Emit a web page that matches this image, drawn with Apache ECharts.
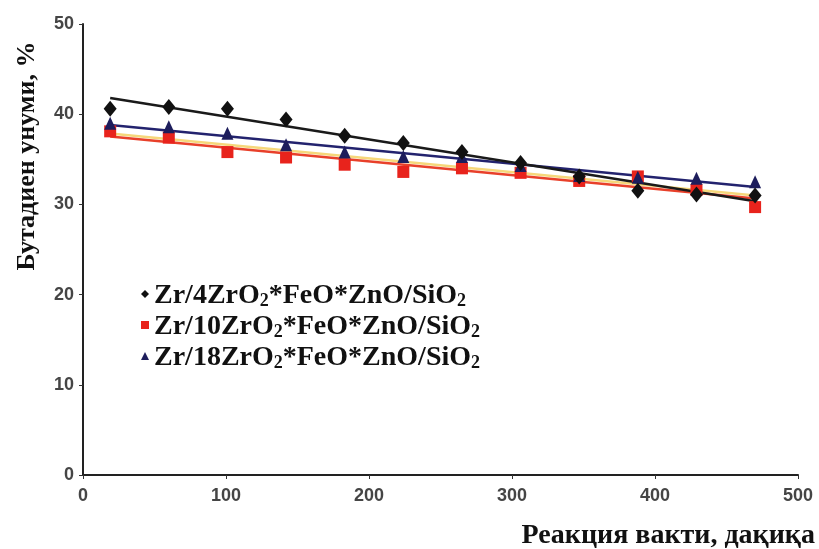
<!DOCTYPE html>
<html>
<head>
<meta charset="utf-8">
<script src="https://cdn.jsdelivr.net/npm/echarts@6/dist/echarts.min.js"></script>
<style>
  html, body { margin: 0; padding: 0; background: #fff; }
  #chart-container { width: 819px; height: 549px; }
</style>
</head>
<body>
<div id="chart-container"></div>
<script>
var times = [19, 60, 101, 142, 183, 224, 265, 306, 347, 388, 429, 470];
var zr4 = [40.6, 40.8, 40.6, 39.4, 37.6, 36.8, 35.8, 34.6, 33.1, 31.5, 31.1, 31.0];
var zr10 = [38.1, 37.4, 35.8, 35.2, 34.4, 33.6, 34.0, 33.5, 32.6, 33.1, 31.6, 29.7];
var zr18 = [39.0, 38.6, 37.9, 36.6, 35.8, 35.3, 35.3, 34.3, 33.2, 33.0, 32.9, 32.5];
var names = ['Zr/4ZrO2*FeO*ZnO/SiO2', 'Zr/10ZrO2*FeO*ZnO/SiO2', 'Zr/18ZrO2*FeO*ZnO/SiO2'];
var xTicks = [0, 100, 200, 300, 400, 500];
var yTicks = [0, 10, 20, 30, 40, 50];

var dom = document.getElementById('chart-container');
var myChart = echarts.init(dom, null, { renderer: 'canvas' });

function pairs(ys) {
  return times.map(function (t, i) { return [t, ys[i]]; });
}

// linear trend line (least squares), like the spreadsheet trendline
function trend(ys) {
  var n = times.length, mx = 0, my = 0, sxy = 0, sxx = 0;
  for (var i = 0; i < n; i++) { mx += times[i] / n; my += ys[i] / n; }
  for (var j = 0; j < n; j++) {
    sxy += (times[j] - mx) * (ys[j] - my);
    sxx += (times[j] - mx) * (times[j] - mx);
  }
  var k = sxy / sxx, b = my - k * mx;
  var x0 = times[0], x1 = times[n - 1];
  return [[x0, k * x0 + b], [x1, k * x1 + b]];
}

function legendText(name) {
  return '{a|' + name.replace(/O2/g, 'O}{s|2}{a|') + '}';
}

var option = {
  animation: false,
  backgroundColor: '#fff',
  grid: { left: 83, right: 21, top: 24, bottom: 74 },
  xAxis: {
    type: 'value',
    min: 0,
    max: 500,
    interval: 100,
    axisLine: { lineStyle: { color: '#222', width: 2 } },
    axisTick: { show: true, length: 4, lineStyle: { color: '#333' } },
    splitLine: { show: false },
    axisLabel: {
      color: '#454545', fontSize: 18, fontWeight: 'bold', fontFamily: 'Liberation Sans', margin: 12,
      formatter: function (v) { return xTicks.indexOf(v) >= 0 ? String(v) : ''; }
    }
  },
  yAxis: {
    type: 'value',
    min: 0,
    max: 50,
    interval: 10,
    axisLine: { show: true, lineStyle: { color: '#222', width: 2 } },
    axisTick: { show: true, length: 4, lineStyle: { color: '#333' } },
    splitLine: { show: false },
    axisLabel: {
      color: '#454545', fontSize: 18, fontWeight: 'bold', fontFamily: 'Liberation Sans', margin: 9,
      formatter: function (v) { return yTicks.indexOf(v) >= 0 ? String(v) : ''; }
    }
  },
  legend: {
    orient: 'vertical',
    left: 136,
    top: 277,
    itemGap: 3,
    itemWidth: 8,
    itemHeight: 8,
    data: [
      { name: names[0], icon: 'diamond' },
      { name: names[1], icon: 'rect' },
      { name: names[2], icon: 'triangle' }
    ],
    formatter: legendText,
    textStyle: {
      rich: {
        a: { fontFamily: 'Liberation Serif', fontWeight: 'bold', fontSize: 28, color: '#111', lineHeight: 32, verticalAlign: 'bottom' },
        s: { fontFamily: 'Liberation Serif', fontWeight: 'bold', fontSize: 18, color: '#111', lineHeight: 20, verticalAlign: 'bottom' }
      }
    }
  },
  graphic: [
    {
      type: 'text',
      x: 27, y: 156,
      rotation: Math.PI / 2,
      style: {
        text: 'Бутадиен унуми, %',
        font: 'bold 26px "Liberation Serif"',
        fill: '#111',
        align: 'center',
        verticalAlign: 'middle'
      }
    },
    {
      type: 'text',
      right: 4, top: 522,
      style: {
        text: 'Реакция вакти, дақиқа',
        font: 'bold 28px "Liberation Serif"',
        fill: '#111'
      }
    }
  ],
  series: [
    {
      type: 'line', data: trend(zr10), showSymbol: false, silent: true, z: 2,
      lineStyle: { color: '#e8402a', width: 2.5, shadowColor: '#f6d77a', shadowOffsetY: -3, shadowBlur: 0 }
    },
    {
      type: 'line', data: trend(zr18), showSymbol: false, silent: true, z: 2,
      lineStyle: { color: '#23236e', width: 2.5 }
    },
    {
      type: 'line', data: trend(zr4), showSymbol: false, silent: true, z: 2,
      lineStyle: { color: '#1a1a1a', width: 2.5 }
    },
    {
      name: names[1], type: 'scatter', data: pairs(zr10), z: 3,
      symbol: 'rect', symbolSize: 12, itemStyle: { color: '#e8231c', opacity: 1 }
    },
    {
      name: names[2], type: 'scatter', data: pairs(zr18), z: 4,
      symbol: 'triangle', symbolSize: [12, 13], itemStyle: { color: '#1d1d5c', opacity: 1 }
    },
    {
      name: names[0], type: 'scatter', data: pairs(zr4), z: 5,
      symbol: 'diamond', symbolSize: [13, 16], itemStyle: { color: '#111', opacity: 1 }
    }
  ]
};

myChart.setOption(option);
window.addEventListener('resize', myChart.resize);
</script>
</body>
</html>
